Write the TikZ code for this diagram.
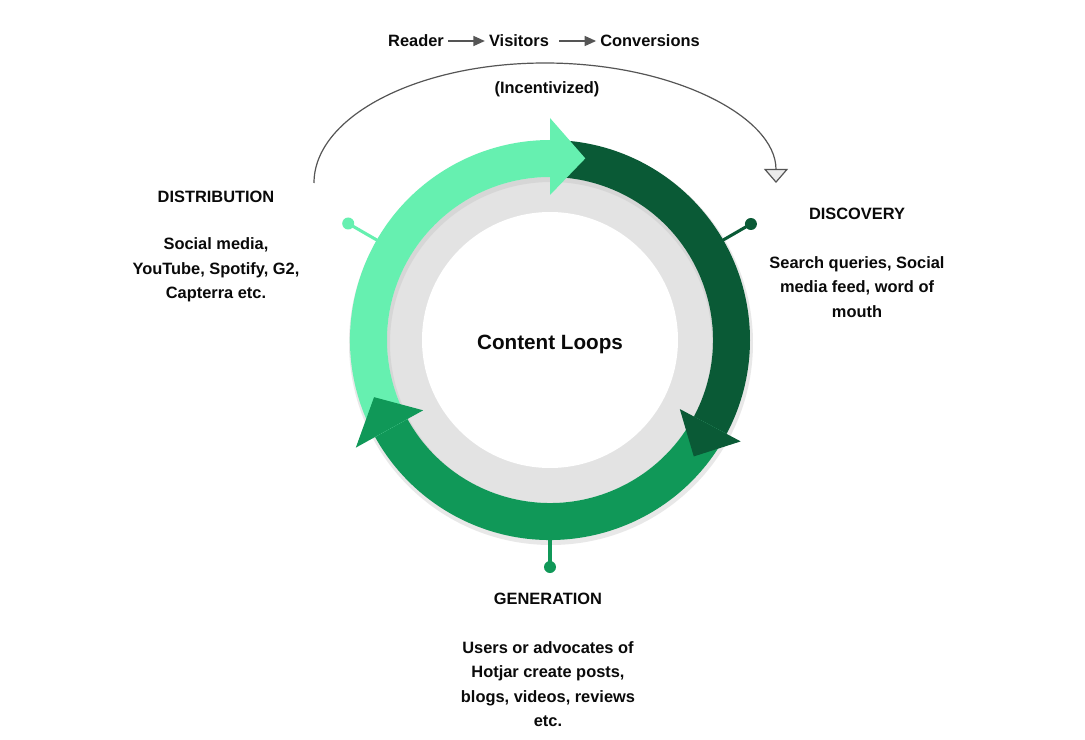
\documentclass[tikz,border=0pt]{standalone}
\usepackage{fontspec}
\setmainfont{Liberation Sans}
\usetikzlibrary{arrows.meta}

\definecolor{loopDistribution}{RGB}{102,240,176}
\definecolor{loopDiscovery}{RGB}{10,90,54}
\definecolor{loopGeneration}{RGB}{16,152,88}
\definecolor{loopTrack}{RGB}{227,227,227}
\definecolor{loopShadow}{RGB}{190,190,190}
\definecolor{loopLine}{RGB}{85,85,85}
\definecolor{loopHead}{RGB}{236,236,236}
\definecolor{loopText}{RGB}{10,10,10}

\begin{document}
\begin{tikzpicture}[x=.75pt,y=.75pt,
      heading/.style={font=\fontsize{12.3}{18}\selectfont\bfseries,
        text=loopText},
      body/.style={font=\fontsize{12.3}{18.3}\selectfont\bfseries,
        text=loopText, align=center},
      flow/.style={font=\fontsize{12.3}{15}\selectfont\bfseries,
        text=loopText, inner sep=3pt},
      flowarrow/.style={draw=loopLine, line width=.9pt,
        -{Triangle[length=8.5pt,width=7.5pt]}},
      incentive/.style={draw=loopLine, line width=.9pt,
        -{Triangle[length=10.5pt,width=18pt,fill=loopHead]}},
      pin/.style={circle, inner sep=0pt, minimum size=9pt},
      stem/.style={line width=2.3pt}]
      \useasboundingbox (-550,-399) rectangle (535,340);
      \fill[white] (-550,-399) rectangle (535,340);

      \fill[loopTrack] (0,0) circle (163);
      \fill[white] (0,0) circle (128);
      \fill[loopShadow, opacity=.35, even odd rule]
        (1,-3) circle (202) (1,-3) circle (161);

      \fill[loopDiscovery] (90:200) arc[start angle=90, end angle=-28, radius=200]
        -- (-28:163) arc[start angle=-28, end angle=90, radius=163] -- cycle;
      \fill[loopGeneration] (-28:200) arc[start angle=-28, end angle=-151, radius=200]
        -- (-151:163) arc[start angle=-151, end angle=-28, radius=163] -- cycle;
      \fill[loopDistribution] (209:200) arc[start angle=209, end angle=90, radius=200]
        -- (90:163) arc[start angle=90, end angle=209, radius=163] -- cycle;

      \fill[loopDistribution] (90:145) -- (90:222) -- (79:185) -- cycle;
      \fill[loopDiscovery] (-28:147) -- (-28:216) -- (-39:185) -- cycle;
      \fill[loopGeneration] (209:145) -- (209:222) -- (198:185) -- cycle;

      \coordinate (distributionFoot) at (150:198);
      \node[pin, fill=loopDistribution] (distributionPin) at (150:233) {};
      \draw[stem, loopDistribution] (distributionFoot) -- (distributionPin.center);
      \coordinate (discoveryFoot) at (30:198);
      \node[pin, fill=loopDiscovery] (discoveryPin) at (30:232) {};
      \draw[stem, loopDiscovery] (discoveryFoot) -- (discoveryPin.center);
      \coordinate (generationFoot) at (-90:198);
      \node[pin, fill=loopGeneration] (generationPin) at (-90:227) {};
      \draw[stem, loopGeneration] (generationFoot) -- (generationPin.center);

      \node[font=\fontsize{15.5}{18}\selectfont\bfseries, text=loopText]
        (loopTitle) at (0,-4) {Content Loops};

      \node[heading] (distributionTitle) at (-334,143) {DISTRIBUTION};
      \node[body] (distributionText) at (-334,70)
        {Social media,\\YouTube, Spotify, G2,\\Capterra etc.};
      \node[heading] (discoveryTitle) at (307,126) {DISCOVERY};
      \node[body] (discoveryText) at (307,53)
        {Search queries, Social\\media feed, word of\\mouth};
      \node[heading] (generationTitle) at (-2,-259) {GENERATION};
      \node[body] (generationText) at (-2,-344)
        {Users or advocates of\\Hotjar create posts,\\blogs, videos, reviews\\etc.};

      \node[flow] (reader) at (-134,299) {Reader};
      \node[flow] (visitors) at (-31,299) {Visitors};
      \node[flow] (conversions) at (100,299) {Conversions};
      \draw[flowarrow] (reader) -- (visitors);
      \draw[flowarrow, shorten <=4.5pt] (visitors) -- (conversions);

      \node[flow] (incentivized) at (-3,251) {(Incentivized)};
      \coordinate (incentiveStart) at (-236,157);
      \draw[incentive] (incentiveStart)
        arc[start angle=180, end angle=0, x radius=231, y radius=120];
    \end{tikzpicture}
\end{document}
